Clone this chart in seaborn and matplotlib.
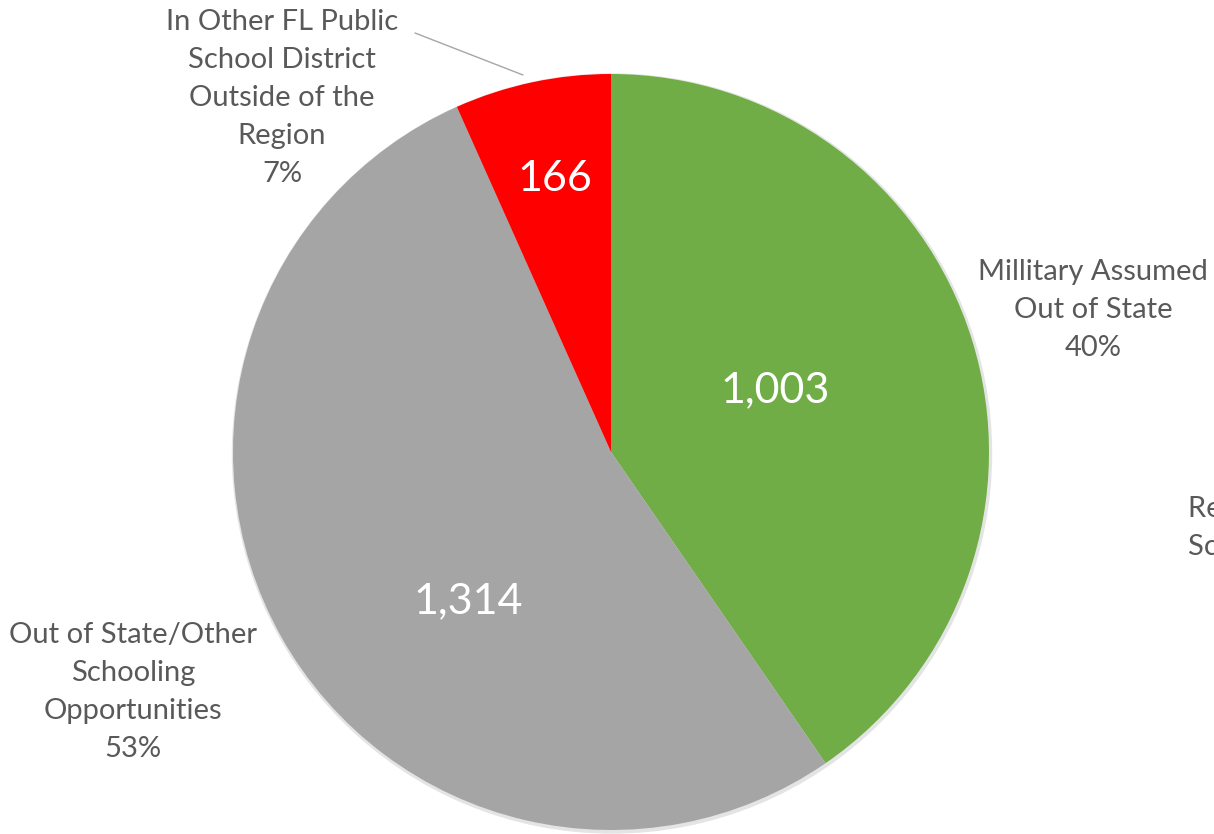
import matplotlib
matplotlib.use("Agg")
import matplotlib.pyplot as plt
import seaborn as sns

# data
categories = ["Millitary Assumed\nOut of State",
              "Out of State/Other\nSchooling\nOpportunities",
              "In Other FL Public\nSchool District\nOutside of the\nRegion"]
counts = [1003, 1314, 166]
colors = ["#70ad47", "#a5a5a5", "#ff0000"]

sns.set_theme(style="white")
plt.rcParams['font.family'] = ['Lato', 'DejaVu Sans']

fig = plt.figure(figsize=(12.14, 8.34), dpi=100)
ax = fig.add_axes([0, 0, 1, 1])

cx, cy, r = 611, 834 - 452, 378
# soft shadow behind the pie
ax.add_patch(plt.Circle((cx + 1, cy - 1.5), r + 1.5, color='#e4e4e4', zorder=0))
wedges, _ = ax.pie(counts, colors=colors, startangle=90, counterclock=False,
                   center=(cx, cy), radius=r, frame=True,
                   wedgeprops=dict(linewidth=0.5, edgecolor='none'))
ax.set_xlim(0, 1214)
ax.set_ylim(0, 834)
ax.set_aspect('equal')
ax.axis('off')

total = sum(counts)
pct = [f"{round(c / total * 100)}%" for c in counts]

# value labels inside slices
value_pos = [(775, 834 - 390), (468, 834 - 601), (555, 834 - 179)]
for (x, y), c in zip(value_pos, counts):
    ax.text(x, y, f"{c:,}", color='white', fontsize=31, ha='center', va='center')

# category labels outside
label_pos = [(1093, 834 - 310), (133, 834 - 692), (282, 834 - 98)]
for (x, y), name, p in zip(label_pos, categories, pct):
    ax.text(x, y, f"{name}\n{p}", color='#595959', fontsize=21, ha='center',
            va='center', linespacing=1.56)

# cut-off label at right edge (as in the source image)
ax.text(1188, 834 - 528, "Remained in\nSchool District", color='#595959', fontsize=21,
        ha='left', va='center', linespacing=1.56, clip_on=False)

# leader line for small slice
ax.plot([415, 523], [834 - 33, 834 - 75], color='#a6a6a6', linewidth=1)

fig.savefig("out.png", dpi=100)
